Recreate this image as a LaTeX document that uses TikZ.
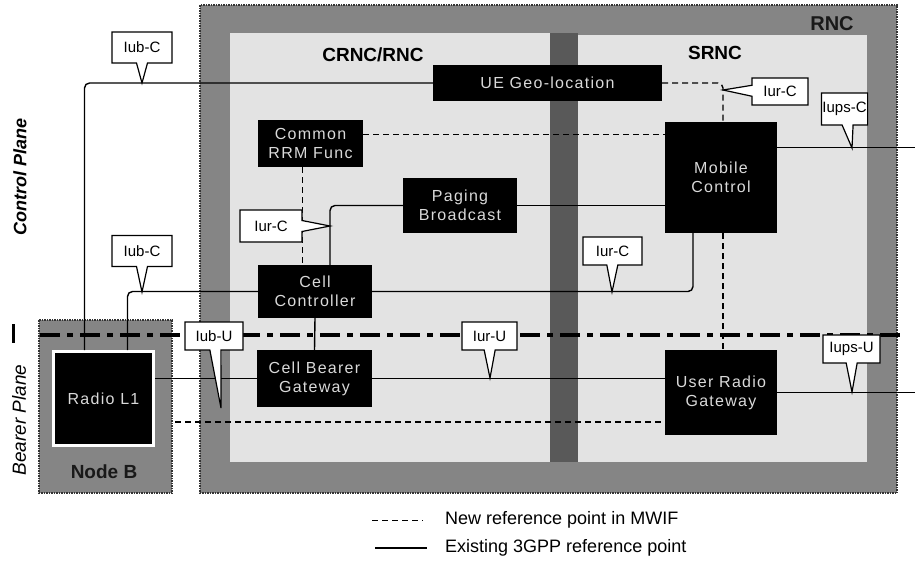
\documentclass[tikz,border=0pt]{standalone}
\usepackage{fontspec}
\setmainfont{Liberation Sans}
\newfontfamily\boxfont[LetterSpace=8]{Liberation Sans}
\usetikzlibrary{shapes.callouts,calc}
\begin{document}
\begin{tikzpicture}[x=1pt,y=-1pt,
  framefill/.style={fill=black!48},
  frameedge/.style={draw=black!80, densely dotted, line width=1.5pt},
  innerfill/.style={fill=black!11},
  conn/.style={line width=1.4pt, rounded corners=5pt},
  dconn/.style={line width=1.4pt, dash pattern=on 6pt off 4pt, rounded corners=5pt},
  blk/.style={fill=black, text=white!85!black, font=\boxfont\fontsize{16}{19}\selectfont, align=center, inner sep=0pt},
  co/.style={rectangle callout, draw=black, line width=1.2pt, fill=white, inner sep=1pt, font=\fontsize{15}{17}\selectfont, callout pointer width=11pt},
  lbl/.style={font=\bfseries\fontsize{19}{22}\selectfont, inner sep=0pt},
  planediv/.style={line width=4pt, dash pattern=on 20pt off 7pt on 6pt off 7pt},
]
\useasboundingbox (0,0) rectangle (915,563);

% frames
\path[framefill] (200,5) rectangle (897,493);
\path[fill=black!65] (550,33) rectangle (578,462);
\path[frameedge] (200,5) rectangle (897,493);
\path[innerfill] (230,33) rectangle (550,462);
\path[innerfill] (578,35) rectangle (867,462);
\path[framefill] (39,320) rectangle (172,493);
\path[frameedge] (39,320) rectangle (172,493);

% frame labels
\node[lbl] (crnclbl) at (373,55) {CRNC/RNC};
\node[lbl] (srnclbl) at (715,53) {SRNC};
\node[lbl, font=\bfseries\fontsize{20}{22}\selectfont, text=black!90] (rnclbl) at (832,24) {RNC};
\node[lbl, text=black!90] (nodeblbl) at (104,472) {Node B};

% plane labels
\node[rotate=90, font=\bfseries\itshape\fontsize{18}{20}\selectfont, inner sep=0pt] (cplane) at (20,177) {Control Plane};
\node[rotate=90, font=\itshape\fontsize{19}{21}\selectfont, inner sep=0pt] (bplane) at (19,420) {Bearer Plane};
\coordinate (barA) at (13,324);
\coordinate (barB) at (13,343);
\draw[line width=3pt] (barA) -- (barB);

% function boxes
\node[blk, minimum width=229, minimum height=36] (UE) at (547.5,83) {UE Geo-location};
\node[blk, minimum width=105, minimum height=47] (CR) at (310.5,143.5) {Common\\RRM Func};
\node[blk, minimum width=114, minimum height=55] (PB) at (460,205.5) {Paging\\Broadcast};
\node[blk, minimum width=114, minimum height=53] (CC) at (315,291.5) {Cell\\Controller};
\node[blk, minimum width=115, minimum height=57] (CB) at (314.5,378.5) {Cell Bearer\\Gateway};
\node[blk, minimum width=112, minimum height=111] (MC) at (721,177.5) {Mobile\\Control};
\node[blk, minimum width=112, minimum height=85] (UR) at (721,392.5) {User Radio\\Gateway};
\node[blk, draw=white, line width=3pt, minimum width=100, minimum height=94] (RL) at (103.5,398.5) {Radio L1};

% connectors
\draw[conn] (UE.west) -| ($(RL.north)+(-19,0)$);
\draw[conn] (CC.west) -| ($(RL.north)+(24,0)$);
\coordinate (crE) at ($(CR.east)+(0,-9)$);
\draw[dconn] (crE) -- (crE -| MC.west);
\coordinate (crS) at ($(CR.south)+(-8,0)$);
\draw[dconn] (crS) -- (crS |- CC.north);
\draw[conn] (PB.west) -| ($(CC.north)+(15,0)$);
\draw[conn] (PB.east) -- (PB.east -| MC.west);
\draw[conn] (CC.east) -| ($(MC.south)+(-28,0)$);
\draw[dconn] (UE.east) -| ($(MC.north)+(2,0)$);
\draw[dconn] ($(MC.south)+(2,0)$) -- ($(UR.north)+(2,0)$);
\coordinate (mcE) at ($(MC.east)+(0,-30)$);
\coordinate (outC) at (915,148);
\draw[conn] (mcE) -- (mcE -| outC);
\coordinate (outU) at (915,392);
\draw[conn] (UR.east) -- (UR.east -| outU);
\draw[conn] (CC.south) -- (CB.north);
\coordinate (rlE) at ($(RL.east)+(0,-20)$);
\draw[conn] (rlE) -- (rlE -| CB.west);
\draw[conn] (CB.east) -- (CB.east -| UR.west);
\coordinate (dS) at (175,422);
\draw[dconn] (dS) -- (dS -| UR.west);

% plane divider
\coordinate (pdA) at (40,335);
\coordinate (pdB) at (907,335);
\draw[planediv] (pdA) -- (pdB);

% callout tips
\coordinate (t1) at (142,83);
\coordinate (t2) at (142,292);
\coordinate (t3) at (330,226);
\coordinate (t4) at (612,292);
\coordinate (t5) at (723,90);
\coordinate (t6) at (852,148);
\coordinate (t7) at (852,392);
\coordinate (t8) at (490,378);
\coordinate (t9) at (221,408);

% callouts
\node[co, minimum width=60, minimum height=31, callout absolute pointer={(t1)}] (iubc1) at (142,47.5) {Iub-C};
\node[co, minimum width=60, minimum height=31, callout absolute pointer={(t2)}] (iubc2) at (142,251) {Iub-C};
\node[co, minimum width=62, minimum height=32, callout absolute pointer={(t3)}] (iurc1) at (271,226) {Iur-C};
\node[co, minimum width=59, minimum height=28, callout absolute pointer={(t4)}] (iurc2) at (612.5,251) {Iur-C};
\node[co, minimum width=56, minimum height=27, callout absolute pointer={(t5)}] (iurc3) at (780,91.5) {Iur-C};
\node[co, minimum width=45, minimum height=32, callout absolute pointer={(t6)}] (iupsc) at (844.5,109) {Iups-C};
\node[co, minimum width=57, minimum height=28, callout absolute pointer={(t7)}] (iupsu) at (851.5,349) {Iups-U};
\node[co, minimum width=55, minimum height=28, callout absolute pointer={(t8)}] (iuru) at (489.5,336) {Iur-U};
\node[co, minimum width=58, minimum height=28, callout absolute pointer={(t9)}] (iubu) at (214,336) {Iub-U};

% legend
\coordinate (l1a) at (372,520);
\coordinate (l1b) at (423,520);
\coordinate (l2a) at (375,548);
\coordinate (l2b) at (427,548);
\draw[line width=1pt, dash pattern=on 6pt off 4pt] (l1a) -- (l1b);
\draw[line width=1.4pt] (l2a) -- (l2b);
\node[anchor=west, inner sep=0pt, font=\fontsize{18}{20}\selectfont] (leg1) at (445,520) {New reference point in MWIF};
\node[anchor=west, inner sep=0pt, font=\fontsize{18}{20}\selectfont] (leg2) at (445,548) {Existing 3GPP reference point};
\end{tikzpicture}
\end{document}
